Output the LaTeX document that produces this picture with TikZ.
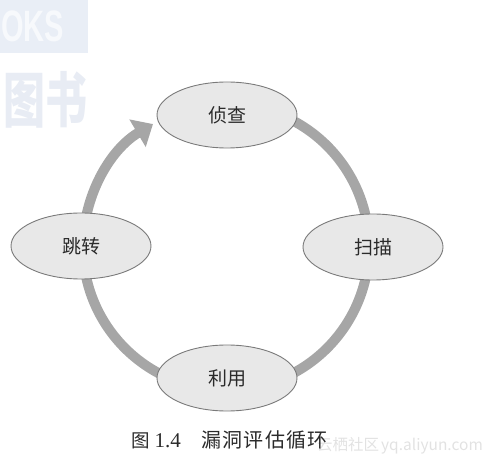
\documentclass[tikz,border=0pt]{standalone}
\usepackage{fontspec}
\setmainfont{Liberation Serif}
\newfontfamily\cjk{Noto Sans CJK SC}
\newfontfamily\wmsans{Liberation Sans}
\usetikzlibrary{arrows.meta,shapes.geometric}
\definecolor{ringgray}{HTML}{A6A6A6}
\definecolor{nodefill}{HTML}{E8E8E8}
\definecolor{nodeedge}{HTML}{7A7A7A}
\definecolor{txt}{HTML}{2A2A2A}
\definecolor{wmbox}{HTML}{E9EEF6}
\definecolor{wmletter}{HTML}{F7F9FC}
\definecolor{wmcjk}{HTML}{E8ECF4}
\definecolor{wmgray}{HTML}{E2E2E2}
\begin{document}
\begin{tikzpicture}[x=1pt,y=1pt,
  stage/.style={ellipse, draw=nodeedge, fill=nodefill, line width=0.9pt,
    minimum width=140pt, minimum height=66pt, inner sep=0pt, text=txt,
    font=\cjk\fontsize{19}{19}\selectfont},
  ring/.style={draw=ringgray, line width=10pt},
  ringarrow/.style={ring, -{Triangle[width=31pt,length=18pt]}},
  caption/.style={text=txt, inner sep=0pt, anchor=base west}]
\clip (0,0) rectangle (492,471);
% watermarks
\fill[wmbox] (0,418) rectangle (88,471);
\node[anchor=base west, inner sep=0pt, xscale=0.66, text=wmletter,
  font=\wmsans\bfseries\fontsize{44}{44}\selectfont] (wm1) at (1,429) {OKS};
\node[inner sep=0pt, xscale=0.7, text=wmcjk,
  font=\cjk\bfseries\fontsize{60}{60}\selectfont] (wm2) at (45,371) {图书};
\node[anchor=west, inner sep=0pt, text=wmgray,
  font=\cjk\fontsize{15.5}{15.5}\selectfont] (wm3) at (317,25) {云栖社区\hspace{2pt}yq.aliyun.com};
% ring
\coordinate (C) at (226,224);
\coordinate (a1) at ([shift={(80:143)}]C);
\coordinate (a2) at ([shift={(0:143)}]C);
\coordinate (a3) at ([shift={(-100:143)}]C);
\coordinate (a4) at ([shift={(180:143)}]C);
\draw[ring] (a1) arc[start angle=80, end angle=0, radius=143];
\draw[ring] (a2) arc[start angle=0, end angle=-80, radius=143];
\draw[ring] (a3) arc[start angle=-100, end angle=-180, radius=143];
\draw[ringarrow] (a4) arc[start angle=180, end angle=120.7, radius=143];
% stages
\node[stage] (zc) at (227,356) {侦查};
\node[stage] (sm) at (373,224) {扫描};
\node[stage] (ly) at (227,93) {利用};
\node[stage] (tz) at (81,225) {跳转};
% caption
\node[caption, font=\fontsize{21}{21}\selectfont] (capnum) at (131,24)
  {{\cjk\fontsize{18.5}{18.5}\selectfont 图}\hspace{5pt}1.4};
\node[caption, font=\cjk\fontsize{20}{20}\selectfont\addfontfeature{LetterSpace=6.5}] (captitle) at (201,24) {漏洞评估循环};
\end{tikzpicture}
\end{document}
